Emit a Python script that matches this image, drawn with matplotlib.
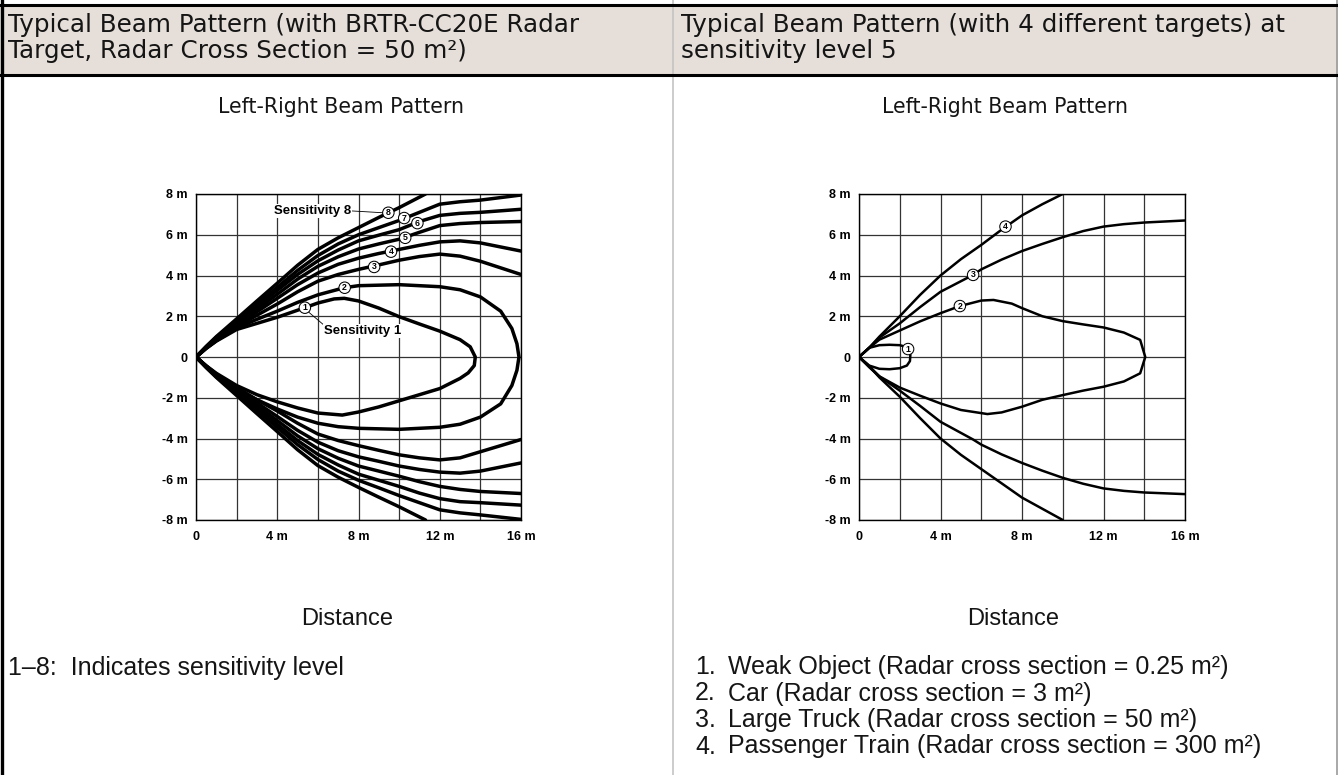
"""
Beam pattern figure: sensitivity levels (left) and target types (right).
"""

import matplotlib
matplotlib.use("Agg")
import matplotlib.pyplot as plt

FIG_W, FIG_H = 1338, 775

HEADER_BG = "#e6dfd9"
HEADER_LEFT = "Typical Beam Pattern (with BRTR-CC20E Radar\nTarget, Radar Cross Section = 50 m²)"
HEADER_RIGHT = "Typical Beam Pattern (with 4 different targets) at\nsensitivity level 5"
PANEL_TITLE = "Left-Right Beam Pattern"
X_LABEL = "Distance"
NOTE_LEFT = "1–8:  Indicates sensitivity level"
NOTE_RIGHT = [
    "Weak Object (Radar cross section = 0.25 m²)",
    "Car (Radar cross section = 3 m²)",
    "Large Truck (Radar cross section = 50 m²)",
    "Passenger Train (Radar cross section = 300 m²)",
]

X_TICKS = [0, 2, 4, 6, 8, 10, 12, 14, 16]
X_TICK_LABELS = ["0", "", "4 m", "", "8 m", "", "12 m", "", "16 m"]
Y_TICKS = [8, 6, 4, 2, 0, -2, -4, -6, -8]
Y_TICK_LABELS = ["8 m", "6 m", "4 m", "2 m", "0", "-2 m", "-4 m", "-6 m", "-8 m"]

# ---- left panel: sensitivity 1..8 (metres) ----
S1_X = [0, 0.5, 1, 2, 3, 4, 5.36, 6, 6.8, 7.3, 8, 9, 10, 11, 12, 13, 13.5, 13.75,
        13.7, 13.4, 13, 12, 11, 10, 9, 8, 7.2, 6, 5, 4, 3, 2, 1, 0.5, 0]
S1_Y = [0, 0.42, 0.78, 1.35, 1.65, 1.95, 2.42, 2.65, 2.85, 2.88, 2.75, 2.4, 1.98, 1.62, 1.27, 0.85, 0.5, 0,
        -0.42, -0.78, -1.05, -1.55, -1.85, -2.15, -2.45, -2.7, -2.85, -2.75, -2.5, -2.2, -1.85, -1.4, -0.8, -0.43, 0]

S2_X = [0, 0.5, 1, 2, 3, 4, 5, 6, 7.3, 8, 10, 12, 13, 14, 15, 15.55, 15.8, 15.9,
        15.8, 15.55, 15, 14, 13, 12, 10, 8, 7, 6, 5, 4, 3, 2, 1, 0.5, 0]
S2_Y = [0, 0.43, 0.8, 1.42, 1.85, 2.25, 2.68, 3.05, 3.4, 3.5, 3.55, 3.45, 3.3, 2.95, 2.25, 1.4, 0.65, 0,
        -0.65, -1.4, -2.3, -2.95, -3.3, -3.45, -3.55, -3.5, -3.42, -3.25, -2.95, -2.55, -2.1, -1.55, -0.85, -0.45, 0]

OPEN_X = [0, 0.5, 1, 2, 3, 4, 5, 6, 7, 8, 9, 10, 11, 12, 13, 14, 16]
S3_UP = [0, 0.44, 0.82, 1.48, 2.05, 2.6, 3.2, 3.72, 4.05, 4.3, 4.52, 4.75, 4.93, 5.05, 4.95, 4.7, 4.05]
S3_LO = [0, -0.44, -0.84, -1.5, -2.1, -2.65, -3.25, -3.78, -4.1, -4.35, -4.58, -4.8, -4.95, -5.05, -4.95, -4.65, -4.05]
S4_UP = [0, 0.45, 0.86, 1.55, 2.22, 2.88, 3.55, 4.12, 4.55, 4.85, 5.08, 5.28, 5.48, 5.65, 5.7, 5.6, 5.2]
S4_LO = [0, -0.45, -0.87, -1.57, -2.25, -2.92, -3.6, -4.18, -4.6, -4.9, -5.12, -5.35, -5.52, -5.65, -5.7, -5.6, -5.2]
S5_UP = [0, 0.46, 0.9, 1.62, 2.35, 3.08, 3.82, 4.45, 4.92, 5.3, 5.55, 5.78, 6.12, 6.45, 6.55, 6.6, 6.65]
S5_LO = [0, -0.46, -0.9, -1.64, -2.38, -3.12, -3.87, -4.5, -4.97, -5.35, -5.6, -5.85, -6.12, -6.35, -6.5, -6.6, -6.7]
S6_UP = [0, 0.48, 0.93, 1.7, 2.48, 3.27, 4.05, 4.72, 5.25, 5.7, 5.98, 6.25, 6.65, 6.95, 7.05, 7.1, 7.25]
S6_LO = [0, -0.48, -0.93, -1.72, -2.5, -3.3, -4.1, -4.78, -5.3, -5.75, -6.05, -6.35, -6.68, -6.95, -7.1, -7.15, -7.27]
S7_UP = [0, 0.5, 0.97, 1.78, 2.6, 3.42, 4.25, 4.98, 5.55, 6.0, 6.35, 6.7, 7.1, 7.5, 7.62, 7.7, 7.95]
S7_LO = [0, -0.5, -0.97, -1.8, -2.62, -3.46, -4.3, -5.03, -5.6, -6.05, -6.42, -6.8, -7.15, -7.5, -7.65, -7.75, -7.97]
S8_X = [0, 0.5, 1, 2, 3, 4, 5, 6, 7, 8, 9, 10, 11.3]
S8_UP = [0, 0.52, 1.0, 1.87, 2.75, 3.62, 4.5, 5.28, 5.85, 6.35, 6.85, 7.33, 8.0]
S8_LO = [0, -0.52, -1.0, -1.89, -2.78, -3.66, -4.55, -5.33, -5.9, -6.4, -6.88, -7.35, -8.0]

LEFT_MARK_TEXT = ["1", "2", "3", "4", "5", "6", "7", "8"]
LEFT_MARK_X = [5.36, 7.32, 8.77, 9.6, 10.3, 10.9, 10.25, 9.47]
LEFT_MARK_Y = [2.42, 3.4, 4.42, 5.17, 5.85, 6.57, 6.82, 7.08]

# ---- right panel: four targets at sensitivity 5 ----
T1_X = [0, 0.5, 1, 1.5, 2, 2.3, 2.45, 2.52, 2.5, 2.35, 2.0, 1.5, 1.0, 0.5, 0]
T1_Y = [0, 0.45, 0.58, 0.6, 0.58, 0.5, 0.32, 0.1, -0.2, -0.42, -0.55, -0.6, -0.58, -0.42, 0]

T2_X = [0, 0.5, 1, 2, 3, 4, 4.95, 6, 6.6, 7.5, 8, 9, 10, 11, 12, 13, 13.8, 14.05,
        13.8, 13, 12, 11, 10, 9, 8, 7, 6.3, 5, 4, 3, 2, 1, 0.5, 0]
T2_Y = [0, 0.45, 0.85, 1.3, 1.75, 2.15, 2.5, 2.77, 2.8, 2.62, 2.4, 2.0, 1.76, 1.6, 1.45, 1.2, 0.84, 0,
        -0.8, -1.2, -1.46, -1.65, -1.87, -2.1, -2.44, -2.72, -2.8, -2.6, -2.28, -1.9, -1.5, -0.95, -0.5, 0]

T3_X = [0, 0.5, 1, 2, 3, 4, 5.6, 6, 7, 8, 9, 10, 11, 12, 13, 14, 16]
T3_UP = [0, 0.45, 0.95, 1.65, 2.45, 3.2, 4.03, 4.3, 4.78, 5.2, 5.55, 5.88, 6.18, 6.4, 6.52, 6.6, 6.7]
T3_LO = [0, -0.45, -0.95, -1.65, -2.4, -3.18, -4.05, -4.3, -4.78, -5.2, -5.58, -5.93, -6.22, -6.45, -6.57, -6.65, -6.73]

T4_X = [0, 0.5, 1, 2, 3, 4, 5, 6, 7, 8, 9, 10]
T4_UP = [0, 0.45, 1.0, 2.0, 3.05, 4.0, 4.8, 5.5, 6.25, 6.95, 7.5, 8.0]
T4_LO = [0, -0.45, -1.0, -1.95, -3.0, -4.0, -4.8, -5.5, -6.2, -6.9, -7.45, -8.0]

RIGHT_MARK_TEXT = ["1", "2", "3", "4"]
RIGHT_MARK_X = [2.41, 4.95, 5.6, 7.19]
RIGHT_MARK_Y = [0.39, 2.5, 4.03, 6.4]

TICK_FONT = ["Liberation Sans", "DejaVu Sans"]
BODY_FONT = ["DejaVu Sans"]
NOTE_FONT = ["Liberation Sans", "DejaVu Sans"]
TEXT_COLOR = "#151515"


def _px_axes(fig, left, top, right, bottom):
    return fig.add_axes([left / FIG_W, 1 - bottom / FIG_H,
                         (right - left) / FIG_W, (bottom - top) / FIG_H])


def _style_grid(ax):
    ax.set_xlim(0, 16)
    ax.set_ylim(-8, 8)
    ax.set_xticks(X_TICKS)
    ax.set_xticklabels(X_TICK_LABELS)
    ax.set_yticks(Y_TICKS)
    ax.set_yticklabels(Y_TICK_LABELS)
    ax.tick_params(length=0, labelsize=9, pad=6)
    ax.tick_params(axis="x", pad=8)
    for lab in ax.get_xticklabels() + ax.get_yticklabels():
        lab.set_fontweight("bold")
        lab.set_family(TICK_FONT)
    ax.grid(True, color="#333333", lw=0.9)
    ax.set_axisbelow(True)
    for sp in ax.spines.values():
        sp.set_color("black")
        sp.set_linewidth(1.0)


def _circled(ax, xs, ys, texts):
    for x, y, t in zip(xs, ys, texts):
        ax.text(x, y, t, ha="center", va="center", fontsize=6.3, fontweight="bold",
                family=TICK_FONT, zorder=5,
                bbox=dict(boxstyle="circle,pad=0.14", fc="white", ec="black", lw=0.75))


def draw_left(ax):
    _style_grid(ax)
    kw = dict(color="black", lw=2.5, solid_joinstyle="round", solid_capstyle="round", zorder=3)
    ax.plot(S1_X, S1_Y, **kw)
    ax.plot(S2_X, S2_Y, **kw)
    for up, lo in [(S3_UP, S3_LO), (S4_UP, S4_LO), (S5_UP, S5_LO),
                   (S6_UP, S6_LO), (S7_UP, S7_LO)]:
        ax.plot(OPEN_X, up, **kw)
        ax.plot(OPEN_X, lo, **kw)
    ax.plot(S8_X, S8_UP, **kw)
    ax.plot(S8_X, S8_LO, **kw)
    _circled(ax, LEFT_MARK_X, LEFT_MARK_Y, LEFT_MARK_TEXT)

    lead = dict(arrowstyle="-", color="black", lw=0.6, shrinkA=0, shrinkB=0)
    ax.annotate("Sensitivity 8", xy=(9.2, 7.08), xytext=(7.65, 7.17),
                ha="right", va="center", fontsize=9.5, fontweight="bold", family=TICK_FONT,
                bbox=dict(fc="white", ec="none", pad=0.5),
                arrowprops=dict(relpos=(1, 0.5), **lead), zorder=4)
    ax.annotate("Sensitivity 1", xy=(5.55, 2.2), xytext=(6.3, 1.27),
                ha="left", va="center", fontsize=9.5, fontweight="bold", family=TICK_FONT,
                bbox=dict(fc="white", ec="none", pad=0.5),
                arrowprops=dict(relpos=(0, 1), **lead), zorder=4)


def draw_right(ax):
    _style_grid(ax)
    kw = dict(color="black", lw=1.8, solid_joinstyle="round", solid_capstyle="round", zorder=3)
    ax.plot(T1_X, T1_Y, **kw)
    ax.plot(T2_X, T2_Y, **kw)
    ax.plot(T3_X, T3_UP, **kw)
    ax.plot(T3_X, T3_LO, **kw)
    ax.plot(T4_X, T4_UP, **kw)
    ax.plot(T4_X, T4_LO, **kw)
    _circled(ax, RIGHT_MARK_X, RIGHT_MARK_Y, RIGHT_MARK_TEXT)


def draw_frame(bg):
    bg.set_xlim(0, FIG_W)
    bg.set_ylim(FIG_H, 0)
    bg.axis("off")
    bg.axhspan(5, 74, color=HEADER_BG, lw=0)
    bg.axvline(673, color="#c4c4c4", lw=1.2)
    bg.axvline(1336.5, color="#9a9a9a", lw=1.2)
    bg.axhline(4.5, color="black", lw=2.2)
    bg.axhline(74.5, color="black", lw=2.2)
    bg.axvline(1.5, color="black", lw=2.4)

    bg.text(8, 38, HEADER_LEFT, ha="left", va="center", fontsize=17.7,
            family=BODY_FONT, color=TEXT_COLOR, linespacing=1.08)
    bg.text(681, 38, HEADER_RIGHT, ha="left", va="center", fontsize=17.7,
            family=BODY_FONT, color=TEXT_COLOR, linespacing=1.08)

    bg.text(341, 107, PANEL_TITLE, ha="center", va="center", fontsize=14.8,
            family=BODY_FONT, color=TEXT_COLOR)
    bg.text(1005, 107, PANEL_TITLE, ha="center", va="center", fontsize=14.8,
            family=BODY_FONT, color=TEXT_COLOR)

    bg.text(347, 619, X_LABEL, ha="center", va="center", fontsize=17,
            family=NOTE_FONT, color=TEXT_COLOR)
    bg.text(1013, 619, X_LABEL, ha="center", va="center", fontsize=17,
            family=NOTE_FONT, color=TEXT_COLOR)

    bg.text(8, 668, NOTE_LEFT, ha="left", va="center", fontsize=18,
            family=NOTE_FONT, color=TEXT_COLOR)
    for i, line in enumerate(NOTE_RIGHT):
        y = 667 + i * 26.5
        bg.text(716, y, f"{i + 1}.", ha="right", va="center", fontsize=18,
                family=NOTE_FONT, color=TEXT_COLOR)
        bg.text(728, y, line, ha="left", va="center", fontsize=18,
                family=NOTE_FONT, color=TEXT_COLOR)


def main():
    fig = plt.figure(figsize=(FIG_W / 100, FIG_H / 100), dpi=100)
    bg = fig.add_axes([0, 0, 1, 1], zorder=0)
    draw_frame(bg)

    ax_l = _px_axes(fig, 196, 194, 521, 520)
    ax_r = _px_axes(fig, 859, 194, 1185, 520)
    draw_left(ax_l)
    draw_right(ax_r)

    fig.savefig("out.png", dpi=100)
    plt.close(fig)


if __name__ == "__main__":
    main()
